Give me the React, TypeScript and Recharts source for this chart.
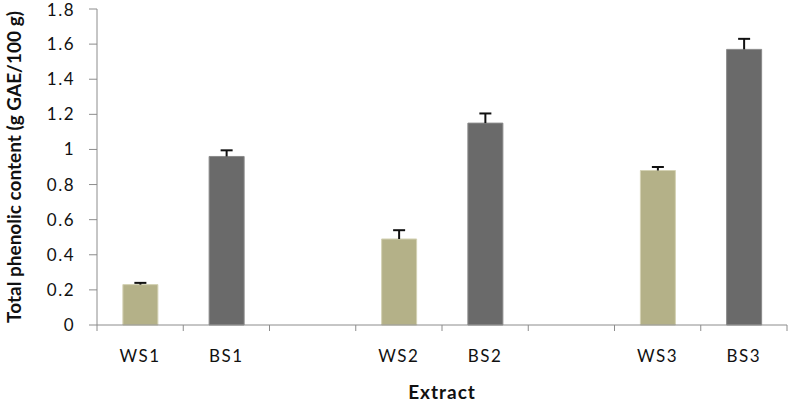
import { BarChart, Bar, XAxis, YAxis, Cell } from "recharts"

// categories along the x axis (empty slots are the gaps between groups)
const categories = ["WS1", "BS1", "", "WS2", "BS2", "", "WS3", "BS3"]
const phenolic = [0.23, 0.96, null, 0.49, 1.15, null, 0.88, 1.57]
const errors = [0.01, 0.035, null, 0.05, 0.055, null, 0.02, 0.06]
const yTicks = [0, 0.2, 0.4, 0.6, 0.8, 1, 1.2, 1.4, 1.6, 1.8]

const W = 790
const H = 404
const LEFT = 97
const RIGHT = 3
const BAND = (W - LEFT - RIGHT) / categories.length

const WS_COLOR = "#b4b188"
const BS_COLOR = "#6a6a6a"
const AXIS = "#8c8c8c"
const FONT = "Lato, 'Open Sans', sans-serif"

const data = categories.map((name, i) => ({
  name,
  value: phenolic[i],
  err: errors[i],
}))

function XTick(props: any) {
  const { x, y, payload, index } = props
  const left = x - BAND / 2
  return (
    <g>
      <line x1={left} y1={y} x2={left} y2={y + 6} stroke={AXIS} />
      {index === categories.length - 1 && (
        <line x1={x + BAND / 2} y1={y} x2={x + BAND / 2} y2={y + 6} stroke={AXIS} />
      )}
      <text x={x} y={y + 37} textAnchor="middle" fontSize={17} letterSpacing={1.5} fill="#111" fontFamily={FONT}>
        {payload.value}
      </text>
    </g>
  )
}

// plus-only error bar: stacked on top of the bar, drawn as a "T"
function PlusError(props: any) {
  const { x, y, width, height, payload } = props
  if (payload?.err == null || !height || !width || isNaN(height)) return null
  const cx = x + width / 2
  return (
    <g stroke="#111" strokeWidth={2}>
      <line x1={cx} y1={y + height} x2={cx} y2={y} />
      <line x1={cx - 6} y1={y} x2={cx + 6} y2={y} />
    </g>
  )
}

export default function App() {
  return (
    <div style={{ position: "absolute", left: 0, top: 0, background: "#fff" }}>
      <BarChart
        width={W}
        height={H}
        data={data}
        margin={{ top: 9, right: RIGHT, left: 0, bottom: 0 }}
        barCategoryGap="30%"
      >
        <XAxis
          dataKey="name"
          height={79}
          stroke={AXIS}
          tickLine={false}
          tickSize={0}
          tickMargin={0}
          interval={0}
          tick={<XTick />}
          label={{
            value: "Extract",
            position: "insideBottom",
            offset: 5,
            fontSize: 19,
            letterSpacing: 1,
            fontWeight: "bold",
            fill: "#111",
            fontFamily: FONT,
          }}
        />
        <YAxis
          width={LEFT}
          domain={[0, 1.8]}
          ticks={yTicks}
          stroke={AXIS}
          tickSize={8}
          tickMargin={14}
          tick={{ fontSize: 17, fill: "#111", fontFamily: FONT, letterSpacing: 1.5 }}
          tickFormatter={(v: number) => String(v)}
          label={{
            value: "Total phenolic content (g GAE/100 g)",
            angle: -90,
            position: "insideLeft",
            offset: 14,
            style: { textAnchor: "middle" },
            fontSize: 19,
            fontWeight: "bold",
            fill: "#111",
            fontFamily: FONT,
          }}
        />
        <Bar dataKey="value" stackId="a" isAnimationActive={false}>
          {data.map((d, i) => (
            <Cell
              key={i}
              fill={d.name.startsWith("WS") ? WS_COLOR : BS_COLOR}
              stroke={d.name.startsWith("WS") ? "#d4d2b4" : "#8a8a8a"}
              strokeWidth={1}
            />
          ))}
        </Bar>
        <Bar dataKey="err" stackId="a" shape={<PlusError />} isAnimationActive={false} />
      </BarChart>
    </div>
  )
}
